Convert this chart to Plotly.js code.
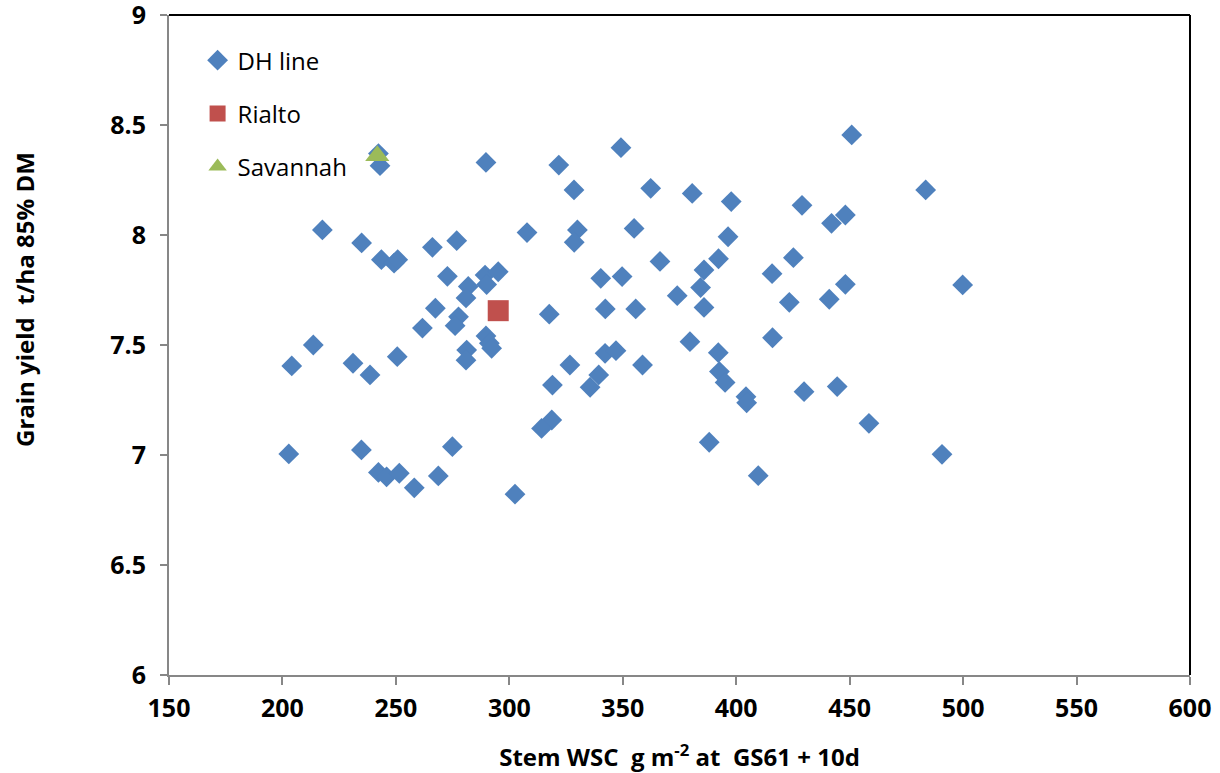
<!DOCTYPE html>
<html>
<head>
<meta charset="utf-8">
<script src="https://cdn.plot.ly/plotly-3.0.1.min.js"></script>
<style>
  html, body { margin: 0; padding: 0; background: #ffffff; }
  #chart { width: 1220px; height: 773px; }
</style>
</head>
<body>
<div id="chart"></div>
<script>
// Stem water-soluble carbohydrate (g m-2 at GS61 + 10d) for each DH line
const dhWsc = [
  242.3, 243.0, 289.7, 321.8, 349.2, 450.9, 328.5, 362.3, 380.6, 397.8,
  429.0, 442.0, 448.1, 483.5, 307.8, 330.0, 328.6, 355.0, 396.4, 366.4,
  392.2, 385.8, 384.3, 425.2, 415.8, 340.3, 349.7, 374.0, 448.1, 499.8,
  423.4, 441.0, 385.8, 317.6, 342.3, 355.7, 416.0, 379.6, 392.1, 342.2,
  347.0, 326.7, 358.7, 392.6, 395.1, 339.4, 319.0, 335.6, 429.9, 444.5,
  404.3, 404.6, 458.5, 388.1, 409.7, 490.7, 318.7, 314.2, 302.5, 217.6,
  234.9, 243.6, 249.2, 250.8, 266.1, 276.8, 272.7, 289.3, 295.1, 290.0,
  281.9, 280.9, 267.4, 277.6, 276.1, 261.7, 289.7, 291.2, 292.2, 281.2,
  280.9, 250.6, 213.6, 204.1, 231.1, 238.6, 202.8, 234.8, 274.9, 242.3,
  245.9, 251.5, 258.1, 268.7
];
// Grain yield (t/ha, 85% DM) for the same DH lines
const dhYield = [
  8.370, 8.315, 8.330, 8.318, 8.397, 8.455, 8.205, 8.212, 8.189, 8.152,
  8.135, 8.053, 8.091, 8.205, 8.011, 8.023, 7.967, 8.030, 7.992, 7.880,
  7.892, 7.841, 7.761, 7.897, 7.824, 7.803, 7.811, 7.724, 7.776, 7.773,
  7.694, 7.708, 7.671, 7.640, 7.664, 7.664, 7.533, 7.515, 7.465, 7.462,
  7.474, 7.409, 7.409, 7.379, 7.330, 7.364, 7.318, 7.308, 7.288, 7.311,
  7.265, 7.237, 7.144, 7.058, 6.906, 7.003, 7.159, 7.121, 6.822, 8.023,
  7.964, 7.888, 7.872, 7.888, 7.944, 7.974, 7.812, 7.818, 7.833, 7.775,
  7.766, 7.714, 7.667, 7.628, 7.588, 7.577, 7.541, 7.508, 7.485, 7.477,
  7.431, 7.447, 7.500, 7.405, 7.417, 7.364, 7.005, 7.023, 7.038, 6.921,
  6.901, 6.917, 6.851, 6.905
];
// Parent varieties
const rialtoWsc = [295.1];
const rialtoYield = [7.656];
const savannahWsc = [241.8];
const savannahYield = [8.360];

// Axis ticks
const xTicks = [150, 200, 250, 300, 350, 400, 450, 500, 550, 600];
const yTicks = [6, 6.5, 7, 7.5, 8, 8.5, 9];

const seriesNames = ['DH line', 'Rialto', 'Savannah'];

const boldFamily = 'Liberation Sans Narrow, Open Sans, sans-serif';
const tickFont = { family: boldFamily, size: 25, color: '#000000', weight: 700 };
const titleFont = { family: boldFamily, size: 24, color: '#000000', weight: 700 };
const axisGrey = '#878787';

const traces = [
  {
    type: 'scatter', mode: 'markers', name: seriesNames[0],
    x: dhWsc, y: dhYield, legendgroup: 'a',
    marker: { symbol: 'diamond', size: 16, color: '#4F81BD' },
    hoverinfo: 'x+y'
  },
  {
    type: 'scatter', mode: 'markers', name: seriesNames[1],
    x: rialtoWsc, y: rialtoYield, legendgroup: 'b',
    marker: { symbol: 'square', size: 21, color: '#C0504D' },
    hoverinfo: 'x+y'
  },
  {
    type: 'scatter', mode: 'markers', name: seriesNames[2],
    x: savannahWsc, y: savannahYield, legendgroup: 'c',
    marker: { symbol: 'triangle-up', size: 21, color: '#9BBB59' },
    hoverinfo: 'x+y'
  }
];

const layout = {
  width: 1220, height: 773,
  margin: { l: 169, r: 30, t: 15, b: 98 },
  paper_bgcolor: '#ffffff', plot_bgcolor: '#ffffff',
  showlegend: true,
  legend: {
    x: 0.028, xanchor: 'left', y: 0.965, yanchor: 'top',
    bgcolor: 'rgba(0,0,0,0)', borderwidth: 0,
    font: { family: 'Open Sans, sans-serif', size: 24, color: '#000000' },
    traceorder: 'grouped', tracegroupgap: 19, itemsizing: 'trace'
  },
  xaxis: {
    range: [150, 600], tickmode: 'array', tickvals: xTicks,
    ticks: 'outside', ticklen: 8, tickwidth: 2, tickcolor: axisGrey,
    showline: true, linecolor: axisGrey, linewidth: 2,
    showgrid: false, zeroline: false, ticklabeloverflow: 'allow',
    tickfont: tickFont, ticklabelstandoff: 2,
    title: {
      text: 'Stem WSC  g m<sup>-2</sup> at  GS61 + 10d',
      font: titleFont,
      standoff: 32
    }
  },
  yaxis: {
    range: [6, 9], tickmode: 'array', tickvals: yTicks,
    ticks: 'outside', ticklen: 7, tickwidth: 2, tickcolor: axisGrey,
    showline: true, linecolor: axisGrey, linewidth: 2,
    showgrid: false, zeroline: false, ticklabeloverflow: 'allow',
    tickfont: tickFont, ticklabelstandoff: 9
  },
  shapes: [
    // black frame along the top and right of the plot area
    {
      type: 'line', xref: 'paper', yref: 'paper', x0: 0, x1: 1, y0: 1, y1: 1,
      line: { color: '#000000', width: 2 }
    },
    {
      type: 'line', xref: 'paper', yref: 'paper', x0: 1, x1: 1, y0: 0, y1: 1,
      line: { color: '#000000', width: 2 }
    }
  ],
  annotations: [
    {
      text: 'Grain yield  t/ha 85% DM', textangle: -90,
      xref: 'paper', yref: 'paper', x: (25 - 169) / 1021, y: (675 - 300) / 660,
      xanchor: 'center', yanchor: 'middle', showarrow: false,
      font: titleFont
    }
  ]
};

Plotly.newPlot('chart', traces, layout, { displayModeBar: false, staticPlot: true });
</script>
</body>
</html>
